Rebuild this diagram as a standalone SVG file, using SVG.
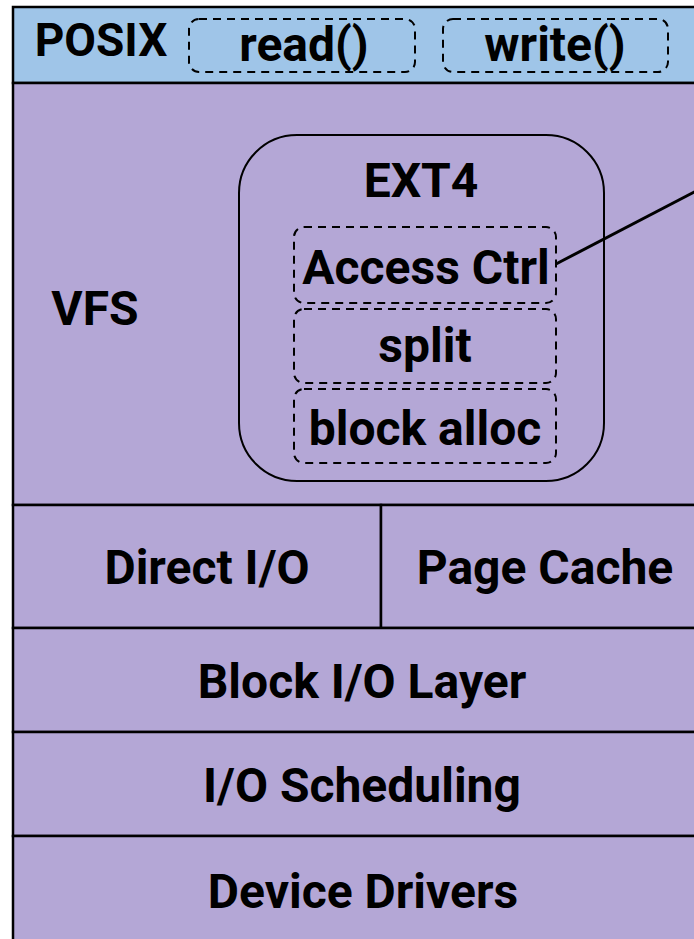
<svg xmlns="http://www.w3.org/2000/svg" width="694" height="939" viewBox="0 0 694 939">
  <style>
    .band { stroke: #000; stroke-width: 2.5; }
    .posix { fill: #9fc5e8; }
    .layer { fill: #b4a7d6; }
    .lbl { font-family: Roboto, "Liberation Sans", sans-serif; font-weight: bold; font-size: 48px; fill: #000; text-anchor: middle; }
    .dash { fill: none; stroke: #000; stroke-width: 2; stroke-dasharray: 8 6; }
    .ext { fill: none; stroke: #000; stroke-width: 2; }
    .link { fill: none; stroke: #000; stroke-width: 3; }
  </style>
  <rect width="694" height="939" fill="#fff"/>

  <!-- POSIX interface band -->
  <g id="posix">
    <rect class="band posix" x="13" y="7" width="700" height="76"/>
    <text class="lbl" x="101" y="56" style="font-size:46px">POSIX</text>
  </g>
  <g id="read">
    <rect class="dash" x="189" y="19" width="226" height="53" rx="10"/>
    <text class="lbl" x="304" y="61">read()</text>
  </g>
  <g id="write">
    <rect class="dash" x="443" y="19" width="225" height="53" rx="10"/>
    <text class="lbl" x="555" y="61">write()</text>
  </g>

  <!-- VFS band -->
  <g id="vfs">
    <rect class="band layer" x="13" y="83" width="700" height="422"/>
    <text class="lbl" x="95" y="325">VFS</text>
  </g>

  <!-- EXT4 file system -->
  <g id="ext4">
    <rect class="ext" x="239" y="135" width="365" height="346" rx="58"/>
    <text class="lbl" x="421" y="197">EXT4</text>
  </g>
  <g id="access-ctrl">
    <rect class="dash" x="294" y="227" width="262" height="76" rx="10"/>
    <text class="lbl" x="426" y="284">Access Ctrl</text>
  </g>
  <g id="split">
    <rect class="dash" x="294" y="309" width="262" height="74" rx="10"/>
    <text class="lbl" x="425" y="362">split</text>
  </g>
  <g id="block-alloc">
    <rect class="dash" x="294" y="389" width="262" height="74" rx="10"/>
    <text class="lbl" x="425" y="445">block alloc</text>
  </g>

  <!-- Direct I/O and page cache -->
  <g id="direct-io">
    <rect class="band layer" x="13" y="505" width="368" height="123"/>
    <text class="lbl" x="207" y="584">Direct I/O</text>
  </g>
  <g id="page-cache">
    <rect class="band layer" x="381" y="505" width="332" height="123"/>
    <text class="lbl" x="545" y="584">Page Cache</text>
  </g>

  <!-- Lower block layers -->
  <g id="block-io">
    <rect class="band layer" x="13" y="628" width="700" height="104"/>
    <text class="lbl" x="362" y="698">Block I/O Layer</text>
  </g>
  <g id="io-sched">
    <rect class="band layer" x="13" y="732" width="700" height="104"/>
    <text class="lbl" x="362" y="802">I/O Scheduling</text>
  </g>
  <g id="drivers">
    <rect class="band layer" x="13" y="836" width="700" height="120"/>
    <text class="lbl" x="363" y="908">Device Drivers</text>
  </g>

  <!-- Connectors -->
  <g id="connectors">
    <line class="link" x1="556" y1="264" x2="700" y2="189"/>
  </g>
</svg>
